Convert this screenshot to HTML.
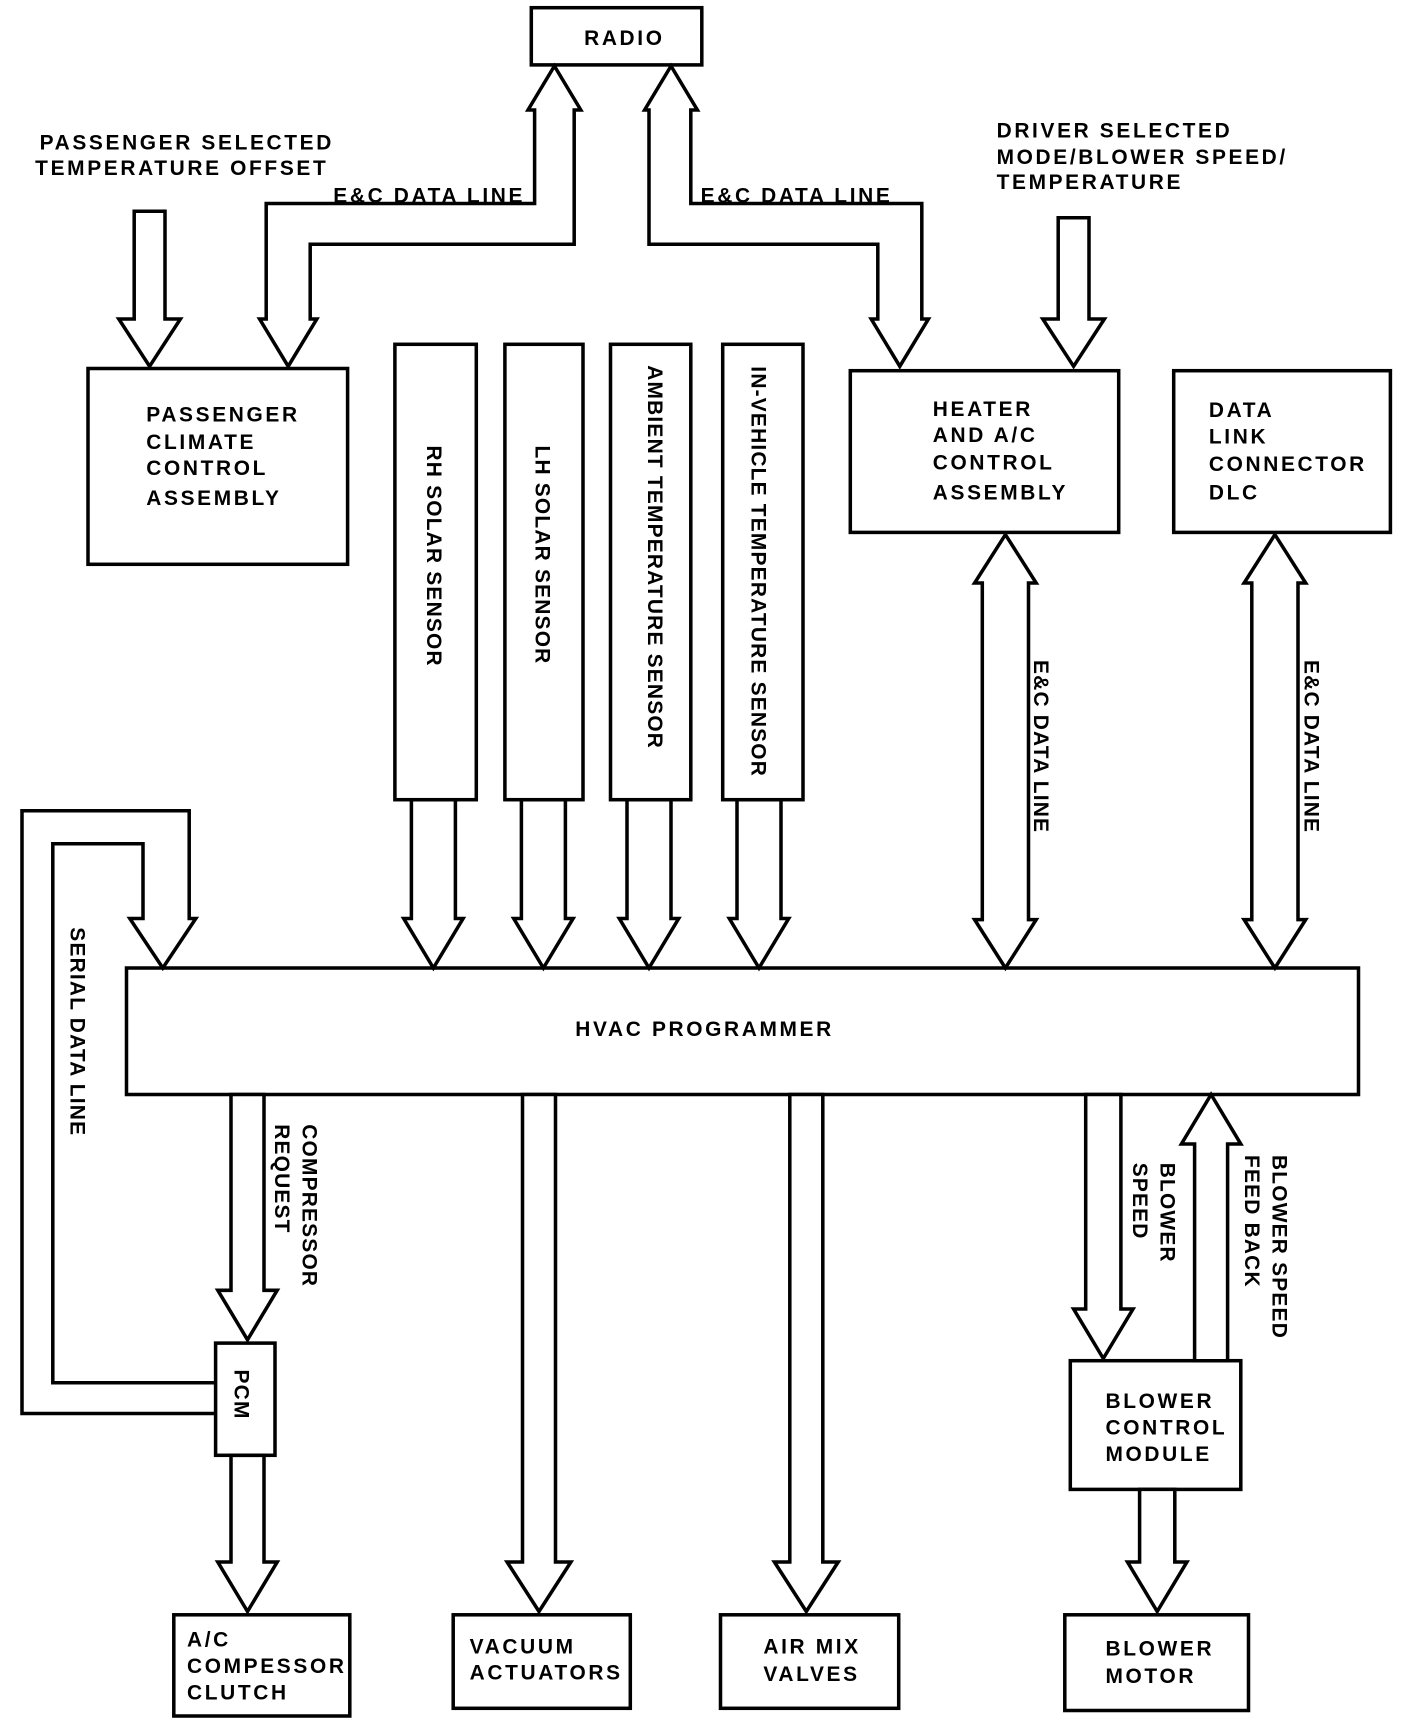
<!DOCTYPE html>
<html><head><meta charset="utf-8"><style>
html,body{margin:0;padding:0;background:#fff;}
svg{display:block;}
text{font-family:"Liberation Sans",sans-serif;font-weight:bold;font-size:19px;fill:#000;letter-spacing:2.4px;}
text.v{letter-spacing:1.1px;}
</style></head><body>
<svg width="1408" height="1722" viewBox="0 0 1280 1565.45" preserveAspectRatio="none" xmlns="http://www.w3.org/2000/svg">
<g fill="#fff" stroke="#000" stroke-width="3.2" stroke-linejoin="miter">
<rect x="483" y="7" width="155" height="52"/>
<rect x="80" y="335" width="236" height="178"/>
<rect x="359" y="313" width="74" height="414"/>
<rect x="459" y="313" width="71" height="414"/>
<rect x="555" y="313" width="73" height="414"/>
<rect x="657" y="313" width="73" height="414"/>
<rect x="773" y="337" width="244" height="147"/>
<rect x="1067" y="337" width="197" height="147"/>
<rect x="115" y="880" width="1120" height="115"/>
<rect x="196" y="1221" width="54" height="102"/>
<rect x="158" y="1468" width="160" height="92"/>
<rect x="412" y="1468" width="161" height="85"/>
<rect x="655" y="1468" width="162" height="85"/>
<rect x="973" y="1237" width="155" height="117"/>
<rect x="968" y="1468" width="167" height="87"/>
<polygon points="374,727 414,727 414,835 421,835 394,880 367,835 374,835"/>
<polygon points="474,727 514,727 514,835 521,835 494,880 467,835 474,835"/>
<polygon points="570,727 610,727 610,835 617,835 590,880 563,835 570,835"/>
<polygon points="670,727 710,727 710,835 717,835 690,880 663,835 670,835"/>
<polygon points="122,192 150,192 150,290 164,290 136,333 108,290 122,290"/>
<polygon points="962,198 990,198 990,290 1004,290 976,333 948,290 962,290"/>
<polygon points="210,995 240,995 240,1173 252,1173 225,1218 198,1173 210,1173"/>
<polygon points="210,1323 240,1323 240,1420 252,1420 225,1465 198,1420 210,1420"/>
<polygon points="475,995 505,995 505,1420 519,1420 490,1465 461,1420 475,1420"/>
<polygon points="718,995 748,995 748,1420 762,1420 733,1465 704,1420 718,1420"/>
<polygon points="987,995 1019,995 1019,1190 1030,1190 1003,1235 976,1190 987,1190"/>
<polygon points="1086,1237 1116,1237 1116,1040 1128,1040 1101,995 1074,1040 1086,1040"/>
<polygon points="1036,1354 1068,1354 1068,1420 1079,1420 1052,1465 1025,1420 1036,1420"/>
<polygon points="893,530 886,530 914,486 942,530 935,530 935,836 942,836 914,880 886,836 893,836"/>
<polygon points="1138,530 1131,530 1159,486 1187,530 1180,530 1180,836 1187,836 1159,880 1131,836 1138,836"/>
<polygon points="504,60 528,100 522,100 522,222 282,222 282,290 288,290 262,333 236,290 242,290 242,185 486,185 486,100 480,100"/>
<polygon points="610,60 634,100 628,100 628,185 838,185 838,290 844,290 818,333 792,290 798,290 798,222 590,222 590,100 586,100"/>
<polyline fill="none" points="196,1285 20,1285 20,737 172,737 172,835 178,835 148,880 118,835 130,835 130,767 48,767 48,1257 196,1257"/>
</g>
<text x="531" y="41">RADIO</text>
<text x="36" y="136">PASSENGER SELECTED</text>
<text x="32" y="159">TEMPERATURE OFFSET</text>
<text x="303" y="184">E&amp;C DATA LINE</text>
<text x="637" y="184">E&amp;C DATA LINE</text>
<text x="906" y="125">DRIVER SELECTED</text>
<text x="906" y="149">MODE/BLOWER SPEED/</text>
<text x="906" y="172">TEMPERATURE</text>
<text x="133" y="383">PASSENGER</text>
<text x="133" y="408">CLIMATE</text>
<text x="133" y="432">CONTROL</text>
<text x="133" y="459">ASSEMBLY</text>
<text x="848" y="378">HEATER</text>
<text x="848" y="402">AND A/C</text>
<text x="848" y="427">CONTROL</text>
<text x="848" y="454">ASSEMBLY</text>
<text x="1099" y="379">DATA</text>
<text x="1099" y="403">LINK</text>
<text x="1099" y="428">CONNECTOR</text>
<text x="1099" y="454">DLC</text>
<text x="523" y="942">HVAC PROGRAMMER</text>
<text x="170" y="1497">A/C</text>
<text x="170" y="1521">COMPESSOR</text>
<text x="170" y="1545">CLUTCH</text>
<text x="427" y="1503">VACUUM</text>
<text x="427" y="1527">ACTUATORS</text>
<text x="694" y="1503">AIR MIX</text>
<text x="694" y="1528">VALVES</text>
<text x="1005" y="1280">BLOWER</text>
<text x="1005" y="1304">CONTROL</text>
<text x="1005" y="1328">MODULE</text>
<text x="1005" y="1505">BLOWER</text>
<text x="1005" y="1530">MOTOR</text>
<text class="v" transform="translate(388,405) rotate(90)">RH SOLAR SENSOR</text>
<text class="v" transform="translate(487,405) rotate(90)">LH SOLAR SENSOR</text>
<text class="v" transform="translate(589,332) rotate(90)">AMBIENT TEMPERATURE SENSOR</text>
<text class="v" transform="translate(683,333) rotate(90)">IN-VEHICLE TEMPERATURE SENSOR</text>
<text class="v" transform="translate(940,600) rotate(90)">E&amp;C DATA LINE</text>
<text class="v" transform="translate(1186,600) rotate(90)">E&amp;C DATA LINE</text>
<text class="v" transform="translate(64,843) rotate(90)">SERIAL DATA LINE</text>
<text class="v" transform="translate(275,1022) rotate(90)">COMPRESSOR</text>
<text class="v" transform="translate(250,1022) rotate(90)">REQUEST</text>
<text class="v" transform="translate(213,1245) rotate(90)">PCM</text>
<text class="v" transform="translate(1055,1057) rotate(90)">BLOWER</text>
<text class="v" transform="translate(1030,1057) rotate(90)">SPEED</text>
<text class="v" transform="translate(1157,1050) rotate(90)">BLOWER SPEED</text>
<text class="v" transform="translate(1132,1050) rotate(90)">FEED BACK</text>
</svg>
</body></html>
